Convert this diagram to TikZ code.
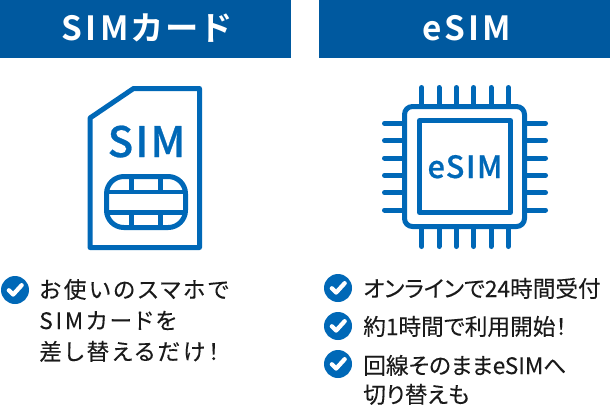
\documentclass[tikz,border=0pt]{standalone}
\usepackage{fontspec}
\setmainfont{Noto Sans CJK JP}[RawFeature={+palt},BoldFont={Noto Sans CJK JP Bold}]
\newfontfamily\hdfont{Noto Sans CJK JP Bold}[RawFeature={+palt},LetterSpace=10]
\newfontfamily\icfont{Noto Sans CJK JP Medium}[LetterSpace=5,FakeBold=0.6]
\newfontfamily\bodyfont{Noto Sans CJK JP}[RawFeature={+palt},FakeBold=0.15]
\newfontfamily\leftfont{Noto Sans CJK JP}[RawFeature={+palt},LetterSpace=12,FakeBold=0.15]
\definecolor{hdblue}{HTML}{00599F}
\definecolor{icblue}{HTML}{0068B7}
\definecolor{txt}{HTML}{1A1A1A}
\tikzset{
  x=0.75pt,y=-0.75pt,
  header/.style={fill=hdblue,draw=none},
  hdtext/.style={text=white,font=\hdfont\fontsize{25pt}{28pt}\selectfont,anchor=base,inner sep=0pt},
  icon/.style={draw=icblue,line width=3.75pt,line join=round},
  thin icon/.style={draw=icblue,line width=3.4pt,line join=round},
  pin/.style={draw=icblue,line width=3.75pt,line cap=round},
  body/.style={text=txt,font=\bodyfont\fontsize{17pt}{20pt}\selectfont,anchor=base west,inner sep=0pt},
  leftbody/.style={text=txt,font=\leftfont\fontsize{17pt}{20pt}\selectfont,anchor=base west,inner sep=0pt},
  checkdisc/.style={circle,fill=icblue,minimum size=21pt,inner sep=0pt,draw=none},
  tick/.style={draw=white,line width=3.2pt,line cap=round,line join=round}
}
\begin{document}
\begin{tikzpicture}
\useasboundingbox (0,0) rectangle (610,405);
\fill[white] (0,0) rectangle (610,405);
% headers
\fill[header] (0,0) rectangle (291,58);
\fill[header] (319,0) rectangle (610,58);
\node[hdtext] (h1) at (146.5,40) {SIMカード};
\node[hdtext] (h2) at (467,40) {eSIM};
% SIM card
\draw[icon] (90,118) -- (133.5,88.5) -- (199.5,88.5) -- (199.5,247.5) -- (90,247.5) -- cycle;
\draw[icon,rounded corners=13pt] (106.5,176.5) rectangle (185.5,227.5);
\draw[thin icon] (106.5,192) -- (185.5,192);
\draw[thin icon] (106.5,212.5) -- (185.5,212.5);
\draw[thin icon] (131.5,176.5) -- (131.5,192);
\draw[thin icon] (160.5,176.5) -- (160.5,192);
\draw[thin icon] (131.5,212.5) -- (131.5,227.5);
\draw[thin icon] (160.5,212.5) -- (160.5,227.5);
\node[text=icblue,font=\icfont\fontsize{31.5pt}{34pt}\selectfont,anchor=base,inner sep=0pt] (simlabel) at (146.5,157) {SIM};
% eSIM chip
\draw[icon,rounded corners=6pt] (404.5,106.5) rectangle (524.5,226.5);
\draw[icon] (419.5,120.5) rectangle (510.5,212.5);
\foreach \p in {421.7,439,456.3,473.7,491,508.3}{
  \draw[pin] (\p,87.5) -- (\p,104);
  \draw[pin] (\p,229) -- (\p,246.5);
}
\foreach \p in {123.3,140.7,158,175.3,192.7,210}{
  \draw[pin] (384.5,\p) -- (402,\p);
  \draw[pin] (527,\p) -- (545.5,\p);
}
\node[text=icblue,font=\icfont\fontsize{23pt}{25pt}\selectfont,anchor=base,inner sep=0pt] (esimlabel) at (465,178) {eSIM};
% checks
\foreach \n/\cx/\cy in {c1/15/290,c2/338/288,c3/338/326,c4/338/364}{
  \node[checkdisc] (\n) at (\cx,\cy) {};
  \draw[tick] ([xshift=-4.6pt,yshift=-0.2pt]\n.center) -- ([xshift=-1.4pt,yshift=-3.4pt]\n.center) -- ([xshift=5pt,yshift=3.6pt]\n.center);
}
% text
\node[leftbody] (t1) at (39,298) {お使いのスマホで};
\node[leftbody] (t2) at (39,329) {SIMカードを};
\node[leftbody] (t3) at (39,360) {差し替えるだけ！};
\node[body] (t4) at (363,297) {オンラインで24時間受付};
\node[body] (t5) at (363,335) {約1時間で利用開始！};
\node[body] (t6) at (363,374) {回線そのままeSIMへ};
\node[body] (t7) at (363,403) {切り替えも};
\end{tikzpicture}
\end{document}
